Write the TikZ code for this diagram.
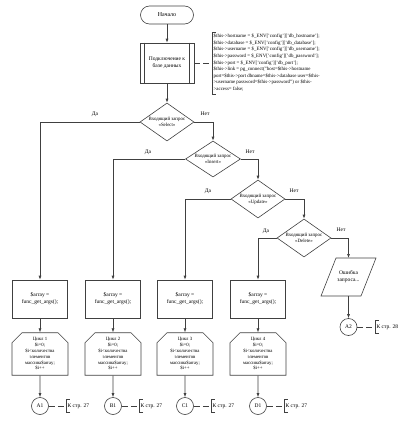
\documentclass[tikz,border=0pt]{standalone}
\usepackage{fontspec}
\setmainfont{Liberation Serif}
\usetikzlibrary{shapes.geometric,shapes.misc,arrows.meta}
\begin{document}
\begin{tikzpicture}[x=1pt,y=-1pt,
  ln/.style={draw=black!75,line width=0.6pt},
  arr/.style={ln,-{Latex[length=4pt,width=3pt]}},
  dsh/.style={ln,dash pattern=on 6pt off 3pt},
  term/.style={ln,rectangle,rounded corners=9pt,minimum width=53pt,minimum height=18pt,inner sep=0pt,font=\fontsize{6}{7}\selectfont},
  pbox/.style={ln,rectangle,minimum width=55pt,minimum height=38pt,inner sep=0pt,align=center,font=\fontsize{5.5}{7}\selectfont},
  dia/.style={ln,diamond,minimum width=54pt,minimum height=38pt,inner sep=0pt},
  dtext/.style={align=center,font=\fontsize{4.9}{6}\selectfont,inner sep=0pt},
  loopbox/.style={ln,chamfered rectangle,chamfered rectangle corners={north west,north east},chamfered rectangle xsep=5pt,chamfered rectangle ysep=5pt,minimum width=56pt,minimum height=36pt,inner sep=0pt,align=center,font=\fontsize{4.8}{5.8}\selectfont},
  conn/.style={ln,circle,minimum size=17pt,inner sep=0pt,font=\fontsize{5.5}{6.5}\selectfont},
  lbl/.style={inner sep=0pt,font=\fontsize{5.5}{6.5}\selectfont},
  note/.style={inner sep=0pt,anchor=west,font=\fontsize{5.5}{6.5}\selectfont}
]
\useasboundingbox (0,0) rectangle (400,423);

% start and DB connection
\node[term] (start) at (167,15) {Начало};
\node[pbox,minimum width=54pt,minimum height=40pt] (proc) at (167,63) {Подключение к\\базе данных};
\draw[ln] ([xshift=5pt]proc.north west) -- ([xshift=5pt]proc.south west);
\draw[ln] ([xshift=-5pt]proc.north east) -- ([xshift=-5pt]proc.south east);
\draw[arr] (start) -- (proc);

% DB annotation
\coordinate (dbb) at (212,63);
\draw[dsh] (proc.east) -- (dbb);
\draw[ln] (216,32) -- (212,32) -- (212,94) -- (216,94);
\node[inner sep=0pt,anchor=north west,align=left,font=\fontsize{4.9}{6.6}\selectfont] (dbtext) at (213.5,34)
{\$this->hostname = \$\_ENV['config']['db\_hostname'];\\
\$this->database = \$\_ENV['config']['db\_database'];\\
\$this->username = \$\_ENV['config']['db\_username'];\\
\$this->password = \$\_ENV['config']['db\_password'];\\
\$this->port = \$\_ENV['config']['db\_port'];\\
\$this->link = pg\_connect("host=\$this->hostname\\
port=\$this->port dbname=\$this->database user=\$this-\\
>username password=\$this->password") or \$this-\\
>access= false;};

% decisions
\node[dia] (d1) at (167,122) {};
\node[dtext] (d1t) at (d1) {Входящий запрос\\«Select»};
\node[dia,minimum width=55pt,minimum height=36pt] (d2) at (213,159) {};
\node[dtext] (d2t) at (d2) {Входящий запрос\\«Insert»};
\node[dia] (d3) at (258,199) {};
\node[dtext] (d3t) at (d3) {Входящий запрос\\«Update»};
\node[dia] (d4) at (304,238) {};
\node[dtext] (d4t) at (d4) {Входящий запрос\\«Delete»};
\draw[arr] (proc) -- (d1);

% error branch
\coordinate (e1) at (336,258);
\coordinate (e2) at (376,258);
\coordinate (e3) at (361,296);
\coordinate (e4) at (321,296);
\node[inner sep=0pt,minimum width=40pt,minimum height=38pt,align=center,font=\fontsize{5.5}{7}\selectfont] (err) at (348.5,277) {Ошибка\\запроса...};
\draw[ln] (e1) -- (e2) -- (e3) -- (e4) -- cycle;
\node[conn] (a2) at (348.5,327) {А2};
\draw[arr] (err.south) -- (a2);
\coordinate (ka2) at (375,327);
\draw[dsh] (a2.east) -- (ka2);
\draw[ln] ([xshift=4pt,yshift=-6.5pt]ka2) -- ([yshift=-6.5pt]ka2) -- ([yshift=6.5pt]ka2) -- ([xshift=4pt,yshift=6.5pt]ka2);
\node[note] (ka2t) at ([xshift=1.5pt]ka2) {К стр. 28};

% No branches
\draw[arr] (d1.east) -| (d2.north);
\draw[arr] (d2.east) -| (d3.north);
\draw[arr] (d3.east) -| (d4.north);
\draw[arr] (d4.east) -| (e1 -| err);
\node[lbl] (n1) at (205,114) {Нет};
\node[lbl] (n2) at (250,152) {Нет};
\node[lbl] (n3) at (294,191) {Нет};
\node[lbl] (n4) at (341,230) {Нет};

% columns
\foreach \i/\x/\lt/\d/\c in {1/40/1/d1/А1,2/113/2/d2/В1,3/185/3/d3/С1,4/258/4/d4/D1}{
  \node[pbox] (b\i) at (\x,299) {\$array =\\func\_get\_args();};
  \node[loopbox] (l\i) at (\x,354) {Цикл \lt\\\$i=0;\\\$i<количества\\элементов\\массива\$array;\\\$i++};
  \node[conn] (c\i) at (\x,406) {\c};
  \draw[arr] (\d.west) -| (b\i.north);
  \draw[arr] (b\i) -- (l\i);
  \draw[arr] (l\i) -- (c\i);
  \coordinate (k\i) at (\x+26,406);
  \draw[dsh] (c\i.east) -- (k\i);
  \draw[ln] ([xshift=4pt,yshift=-6.5pt]k\i) -- ([yshift=-6.5pt]k\i) -- ([yshift=6.5pt]k\i) -- ([xshift=4pt,yshift=6.5pt]k\i);
  \node[note] (kt\i) at ([xshift=1.5pt]k\i) {К стр. 27};
}

% Yes labels
\node[lbl] (y1) at (95,114) {Да};
\node[lbl] (y2) at (148,152) {Да};
\node[lbl] (y3) at (208,191) {Да};
\node[lbl] (y4) at (266,231) {Да};
\end{tikzpicture}
\end{document}
